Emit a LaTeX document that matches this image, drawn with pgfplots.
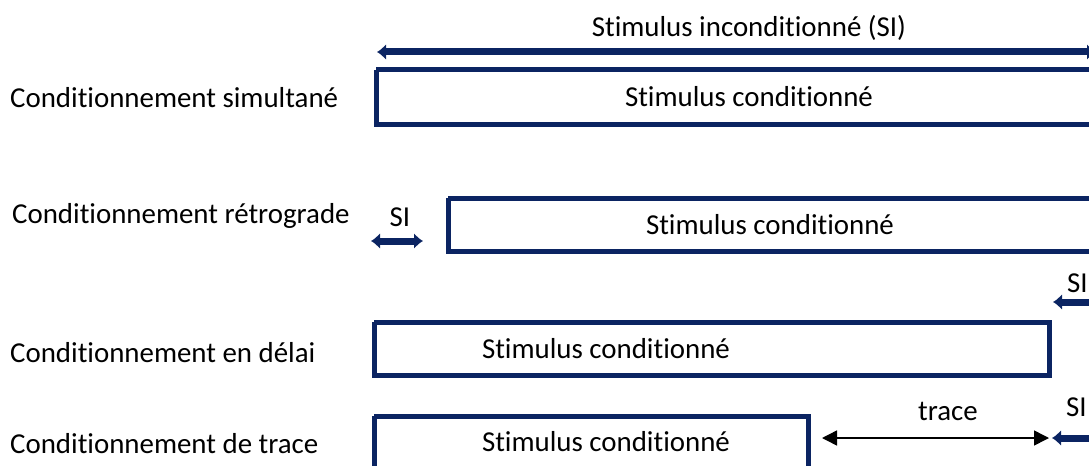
\documentclass[border=0pt]{standalone}
\usepackage{pgfplots}
\pgfplotsset{compat=1.18}
\usepackage{fontspec}
\setmainfont{Carlito}[Ligatures={NoCommon}]
\usetikzlibrary{arrows.meta}
\definecolor{navy}{HTML}{0B2462}
\begin{document}
\fontsize{29}{34}\selectfont
\begin{tikzpicture}[lbl/.style={font=\fontsize{29}{34}\selectfont, inner sep=0pt}]
\begin{axis}[
  scale only axis, width=1089bp, height=466bp,
  xmin=0, xmax=1089, ymin=0, ymax=466, y dir=reverse,
  hide axis, clip=true,
]
% boxes (stimulus conditionne)
\addplot[navy, line width=5bp, line join=miter] coordinates {(376,70) (1130,70) (1130,124) (376,124) (376,70)};
\addplot[navy, line width=5bp, line join=miter] coordinates {(448,198) (1130,198) (1130,251) (448,251) (448,198)};
\addplot[navy, line width=5bp, line join=miter] coordinates {(374,322) (1049,322) (1049,375) (374,375) (374,322)};
\addplot[navy, line width=5bp, line join=miter] coordinates {(374,416) (808,416) (808,500) (374,500) (374,416)};
% SI arrows
\addplot[navy, line width=7bp, {Latex[length=9bp,width=16bp]}-{Latex[length=9bp,width=16bp]}] coordinates {(377,52) (1096,52)};
\addplot[navy, line width=7bp, {Latex[length=9bp,width=16bp]}-{Latex[length=9bp,width=16bp]}] coordinates {(371,241) (423,241)};
\addplot[navy, line width=7bp, {Latex[length=9bp,width=16bp]}-] coordinates {(1053,302) (1120,302)};
\addplot[navy, line width=7bp, {Latex[length=9bp,width=16bp]}-] coordinates {(1052,438) (1120,438)};
% trace arrow
\addplot[black, line width=1.5bp, {Triangle[length=15bp,width=15bp]}-{Triangle[length=15bp,width=15bp]}] coordinates {(822,438) (1049,438)};
% texts
\node[lbl, anchor=base] at (axis cs:749,37) {Stimulus inconditionné (SI)};
\node[lbl, anchor=base] at (axis cs:749,106) {Stimulus conditionné};
\node[lbl, anchor=base] at (axis cs:770,234) {Stimulus conditionné};
\node[lbl, anchor=base] at (axis cs:606,358) {Stimulus conditionné};
\node[lbl, anchor=base] at (axis cs:606,451) {Stimulus conditionné};
\node[lbl, anchor=base west] at (axis cs:10,107) {Conditionnement simultané};
\node[lbl, anchor=base west] at (axis cs:12,223) {Conditionnement rétrograde};
\node[lbl, anchor=base west] at (axis cs:10,362) {Conditionnement en délai};
\node[lbl, anchor=base west] at (axis cs:10,453) {Conditionnement de trace};
\node[lbl, anchor=base] at (axis cs:400,226) {SI};
\node[lbl, anchor=base west] at (axis cs:1067,292) {SI};
\node[lbl, anchor=base west] at (axis cs:1066,416) {SI};
\node[lbl, anchor=base] at (axis cs:948,420) {trace};
\end{axis}
\pgfresetboundingbox
\path (current axis.south west) rectangle (current axis.north east);
\end{tikzpicture}
\end{document}
